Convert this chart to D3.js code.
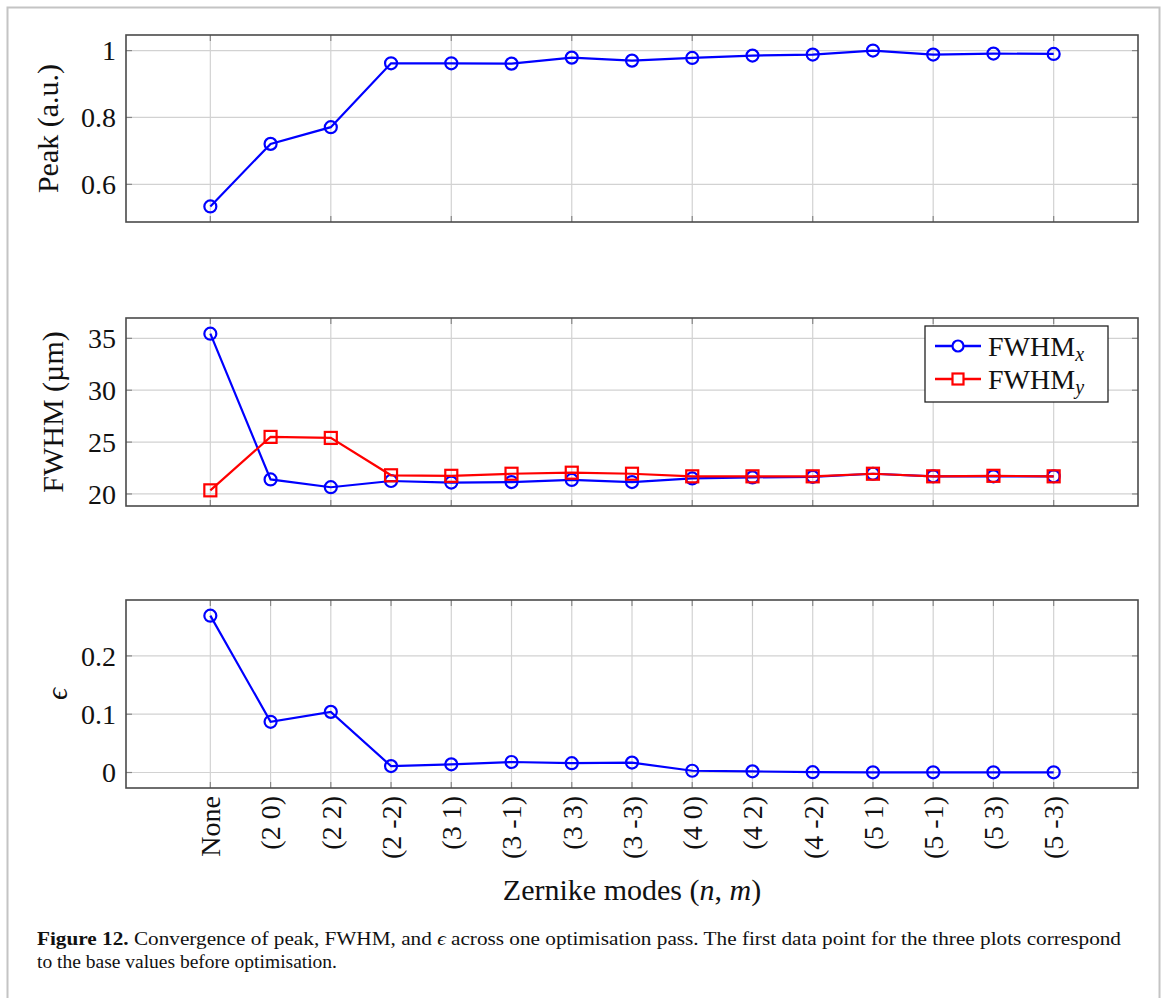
<!DOCTYPE html>
<html>
<head>
<meta charset="utf-8">
<script src="https://cdn.jsdelivr.net/npm/d3@7"></script>
<style>
  body { margin: 0; background: #fff; }
  text { font-family: "Liberation Serif", "DejaVu Serif", serif; fill: #111; }
</style>
</head>
<body>
<div id="chart"></div>
<script>

// x categories: Zernike modes
var modes = ["None", "(2 0)", "(2 2)", "(2 -2)", "(3 1)", "(3 -1)", "(3 3)", "(3 -3)",
             "(4 0)", "(4 2)", "(4 -2)", "(5 1)", "(5 -1)", "(5 3)", "(5 -3)"];

var peak = [0.534, 0.721, 0.771, 0.962, 0.962, 0.961, 0.979, 0.970,
            0.978, 0.985, 0.988, 1.000, 0.988, 0.991, 0.990];

var fwhmX = [35.45, 21.4, 20.65, 21.25, 21.1, 21.15, 21.35, 21.15,
             21.5, 21.6, 21.65, 21.95, 21.7, 21.7, 21.7];
var fwhmY = [20.35, 25.5, 25.4, 21.8, 21.75, 21.95, 22.05, 21.95,
             21.7, 21.7, 21.7, 21.95, 21.7, 21.75, 21.7];

var eps = [0.269, 0.087, 0.104, 0.011, 0.014, 0.018, 0.016, 0.017,
           0.003, 0.002, 0.0005, 0.0003, 0.0003, 0.0003, 0.0003];

var peakTicks = [0.6, 0.8, 1];
var fwhmTicks = [20, 25, 30, 35];
var epsTicks = [0, 0.1, 0.2];

var svg_width = 1165;
var svg_height = 998;
var plot_left = 126;
var plot_right = 1138;
var tick_font = 28;
var label_font = 30;
var mark_r = 6;
var grid_col = "#d2d2d2";
var frame_col = "#4a4a4a";

var svg = d3.select("#chart")
            .append("svg")
            .attr("width", svg_width)
            .attr("height", svg_height);

// page frame of the figure box
svg.append("rect")
   .attr("x", 7.5).attr("y", 7.5)
   .attr("width", 1152).attr("height", 1010)
   .attr("fill", "none")
   .attr("stroke", "#c4c4c4")
   .attr("stroke-width", 2);

var n = modes.length;
// pgfplots enlarges the x range by 10% each side
var xScale = d3.scaleLinear()
               .domain([-0.1 * (n - 1), (n - 1) * 1.1])
               .range([plot_left, plot_right]);

function enlarged(vals) {
  var lo = d3.min(vals), hi = d3.max(vals), pad = (hi - lo) * 0.1;
  return [lo - pad, hi + pad];
}

function drawPanel(top, bottom, domain, yTicks, xTickIdx, yLabel, yLabelX) {
  var y = d3.scaleLinear().domain(domain).range([bottom, top]);
  var g = svg.append("g");

  // grid
  g.append("g").selectAll("line")
    .data(xTickIdx).enter().append("line")
    .attr("x1", function(d) { return xScale(d); })
    .attr("x2", function(d) { return xScale(d); })
    .attr("y1", top).attr("y2", bottom)
    .attr("stroke", grid_col).attr("stroke-width", 1.2);
  g.append("g").selectAll("line")
    .data(yTicks).enter().append("line")
    .attr("x1", plot_left).attr("x2", plot_right)
    .attr("y1", function(d) { return y(d); })
    .attr("y2", function(d) { return y(d); })
    .attr("stroke", grid_col).attr("stroke-width", 1.2);

  // inner tick marks
  var tl = 6;
  xTickIdx.forEach(function(d) {
    var xx = xScale(d);
    g.append("line").attr("x1", xx).attr("x2", xx).attr("y1", bottom).attr("y2", bottom - tl)
      .attr("stroke", "#888").attr("stroke-width", 1.2);
    g.append("line").attr("x1", xx).attr("x2", xx).attr("y1", top).attr("y2", top + tl)
      .attr("stroke", "#888").attr("stroke-width", 1.2);
  });
  yTicks.forEach(function(d) {
    var yy = y(d);
    g.append("line").attr("x1", plot_left).attr("x2", plot_left + tl).attr("y1", yy).attr("y2", yy)
      .attr("stroke", "#888").attr("stroke-width", 1.2);
    g.append("line").attr("x1", plot_right).attr("x2", plot_right - tl).attr("y1", yy).attr("y2", yy)
      .attr("stroke", "#888").attr("stroke-width", 1.2);
  });

  // y tick labels
  g.append("g").selectAll("text")
    .data(yTicks).enter().append("text")
    .attr("x", plot_left - 10)
    .attr("y", function(d) { return y(d); })
    .attr("dy", "0.35em")
    .attr("text-anchor", "end")
    .attr("font-size", tick_font)
    .text(function(d) { return d3.format("~g")(d); });

  // frame
  g.append("rect")
    .attr("x", plot_left).attr("y", top)
    .attr("width", plot_right - plot_left).attr("height", bottom - top)
    .attr("fill", "none").attr("stroke", frame_col).attr("stroke-width", 1.6);

  // y label
  g.append("text")
    .attr("transform", "translate(" + yLabelX + "," + ((top + bottom) / 2) + ") rotate(-90)")
    .attr("text-anchor", "middle")
    .attr("dy", "0.35em")
    .attr("font-size", label_font)
    .html(yLabel);

  return y;
}

function drawSeries(y, values, color, marker) {
  var line = d3.line()
               .x(function(d, i) { return xScale(i); })
               .y(function(d) { return y(d); });
  svg.append("path")
     .datum(values)
     .attr("d", line)
     .attr("fill", "none")
     .attr("stroke", color)
     .attr("stroke-width", 2.2);
  if (marker === "circle") {
    svg.append("g").selectAll("circle")
       .data(values).enter().append("circle")
       .attr("cx", function(d, i) { return xScale(i); })
       .attr("cy", function(d) { return y(d); })
       .attr("r", mark_r)
       .attr("fill", "none")
       .attr("stroke", color)
       .attr("stroke-width", 2.2);
  } else {
    svg.append("g").selectAll("rect")
       .data(values).enter().append("rect")
       .attr("x", function(d, i) { return xScale(i) - mark_r; })
       .attr("y", function(d) { return y(d) - mark_r; })
       .attr("width", mark_r * 2).attr("height", mark_r * 2)
       .attr("fill", "none")
       .attr("stroke", color)
       .attr("stroke-width", 2.2);
  }
}

var everyOther = d3.range(0, n, 2);
var everyOne = d3.range(0, n);

// top: peak
var yPeak = drawPanel(35, 222, enlarged(peak), peakTicks, everyOther, "Peak (a.u.)", 47);
drawSeries(yPeak, peak, "#0000ff", "circle");

// middle: FWHM
var yF = drawPanel(318, 506, enlarged(fwhmX.concat(fwhmY)), fwhmTicks, everyOther, "FWHM (\u00b5m)", 52);
drawSeries(yF, fwhmX, "#0000ff", "circle");
drawSeries(yF, fwhmY, "#ff0000", "square");

// legend
var lg = svg.append("g").attr("transform", "translate(925,326)");
lg.append("rect").attr("width", 183).attr("height", 76)
  .attr("fill", "#fff").attr("stroke", "#222").attr("stroke-width", 1.3);
[["x", "#0000ff", "circle"], ["y", "#ff0000", "square"]].forEach(function(e, i) {
  var yy = 20 + i * 33;
  lg.append("line").attr("x1", 10).attr("x2", 56).attr("y1", yy).attr("y2", yy)
    .attr("stroke", e[1]).attr("stroke-width", 2.6);
  if (e[2] === "circle") {
    lg.append("circle").attr("cx", 33).attr("cy", yy).attr("r", 5.5)
      .attr("fill", "#fff").attr("stroke", e[1]).attr("stroke-width", 2.2);
  } else {
    lg.append("rect").attr("x", 27.5).attr("y", yy - 5.5).attr("width", 11).attr("height", 11)
      .attr("fill", "#fff").attr("stroke", e[1]).attr("stroke-width", 2.2);
  }
  var t = lg.append("text").attr("x", 63).attr("y", yy).attr("dy", "0.35em")
    .attr("font-size", 28);
  t.append("tspan").text("FWHM");
  t.append("tspan").attr("font-style", "italic").attr("font-size", 20)
    .attr("dy", 5).text(e[0]);
});

// bottom: epsilon
var yE = drawPanel(600, 788, enlarged(eps), epsTicks, everyOne,
                   "<tspan font-style='italic'>\u03f5</tspan>", 56);
drawSeries(yE, eps, "#0000ff", "circle");

// rotated category labels
svg.append("g").selectAll("text")
   .data(modes).enter().append("text")
   .attr("transform", function(d, i) {
     return "translate(" + xScale(i) + "," + 796 + ") rotate(-90)";
   })
   .attr("text-anchor", "end")
   .attr("dy", "0.35em")
   .attr("font-size", tick_font)
   .text(function(d) { return d; });

// x axis title
var xt = svg.append("text")
   .attr("x", (plot_left + plot_right) / 2)
   .attr("y", 900)
   .attr("text-anchor", "middle")
   .attr("font-size", label_font);
xt.append("tspan").text("Zernike modes (");
xt.append("tspan").attr("font-style", "italic").text("n");
xt.append("tspan").text(", ");
xt.append("tspan").attr("font-style", "italic").text("m");
xt.append("tspan").text(")");

// caption
var cap1 = svg.append("text").attr("x", 37).attr("y", 945).attr("font-size", 19)
  .attr("textLength", 1084).attr("lengthAdjust", "spacingAndGlyphs");
cap1.append("tspan").attr("font-weight", "bold").text("Figure 12.");
cap1.append("tspan").text(" Convergence of peak, FWHM, and ");
cap1.append("tspan").attr("font-style", "italic").text("\u03f5");
cap1.append("tspan").text(" across one optimisation pass. The first data point for the three plots correspond");
svg.append("text").attr("x", 37).attr("y", 968).attr("font-size", 19)
  .attr("textLength", 300).attr("lengthAdjust", "spacingAndGlyphs")
  .text("to the base values before optimisation.");

</script>
</body>
</html>
